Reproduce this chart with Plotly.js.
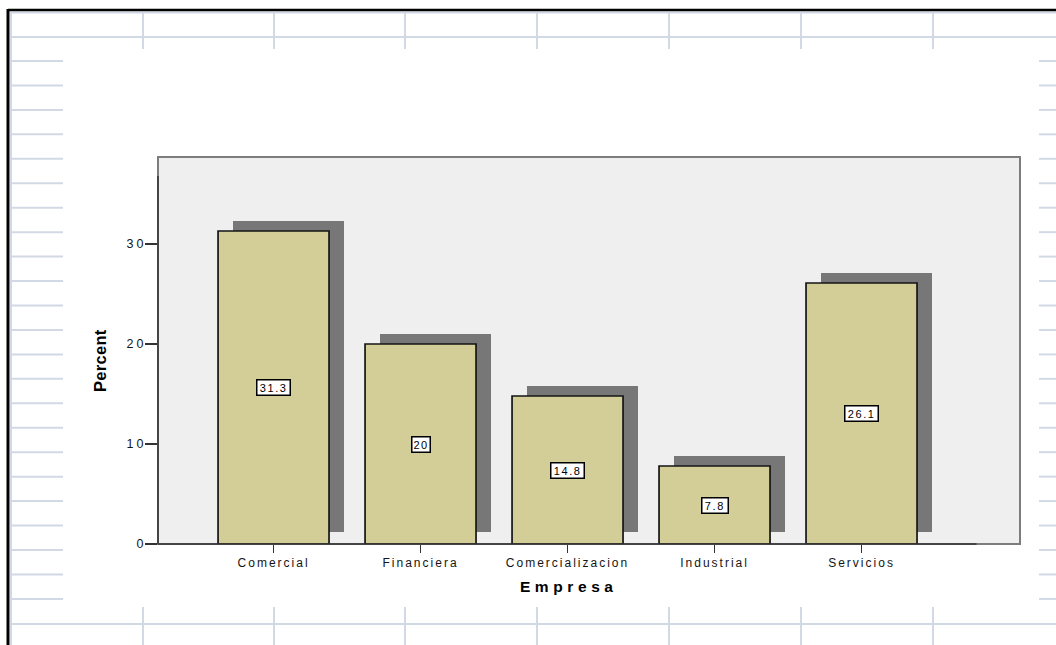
<!DOCTYPE html>
<html>
<head>
<meta charset="utf-8">
<script src="https://cdn.plot.ly/plotly-3.0.1.min.js"></script>
<style>
  html, body { margin: 0; padding: 0; background: #ffffff; }
  #chart { width: 1056px; height: 645px; }
  #chart .xtick text { letter-spacing: 2px; }
  #chart .ytick text { letter-spacing: 3px; }
  #chart .annotation text { letter-spacing: 1.6px; }
  #chart .annotation[data-index="5"] text { letter-spacing: 0.3px; }
  #chart .annotation[data-index="6"] text { letter-spacing: 4.6px; }
</style>
</head>
<body>
<div id="chart"></div>
<script>
// ---- data ----
const categories = ['Comercial', 'Financiera', 'Comercializacion', 'Industrial', 'Servicios'];
const percents = [31.3, 20, 14.8, 7.8, 26.1];
const yTickValues = [0, 10, 20, 30];
const xTitle = 'Empresa';
const yTitle = 'Percent';

// ---- styling constants ----
const BAR_WIDTH = 0.755;
const SHADOW_DX = 0.102;
const SHADOW_DY = 1.05;
const SHADOW_BASE = 1.2;
const W = 1056, H = 645;
const M = { l: 158, r: 36, t: 157, b: 101 };
const PW = W - M.l - M.r, PH = H - M.t - M.b;
const GRID = '#d2d9e5';
const FONT = 'Liberation Sans, Arial, sans-serif';

const positions = categories.map((c, i) => i);

const shadowTrace = {
  type: 'bar',
  x: positions.map(p => p + SHADOW_DX),
  y: percents.map(v => v + SHADOW_DY - SHADOW_BASE),
  base: SHADOW_BASE,
  width: BAR_WIDTH,
  marker: { color: '#777777', line: { width: 0 } },
  hoverinfo: 'skip',
  showlegend: false
};

const barTrace = {
  type: 'bar',
  x: positions,
  y: percents,
  width: BAR_WIDTH,
  marker: { color: '#d3ce97', line: { color: '#151515', width: 1.7 } },
  hovertemplate: '%{text}: %{y}<extra></extra>',
  text: categories,
  textposition: 'none',
  showlegend: false
};

// ---- pixel -> paper helpers ----
const px = x => (x - M.l) / PW;
const py = y => (M.t + PH - y) / PH;

// value labels in white boxes at mid-height of bars
const labelAnnotations = percents.map((v, i) => ({
  x: positions[i], y: v / 2, xref: 'x', yref: 'y',
  text: String(v), showarrow: false,
  width: String(v).length * 7.6, height: 12,
  font: { family: FONT, size: 11, color: '#000' },
  bgcolor: '#ffffff', bordercolor: '#000000', borderwidth: 1.5, borderpad: 1
}));

const titleAnnotations = [
  { xref: 'paper', yref: 'paper', x: px(100), y: py(361), xanchor: 'center', yanchor: 'middle',
    text: yTitle, textangle: -90, showarrow: false,
    font: { family: FONT, size: 16.5, weight: 'bold', color: '#000000' } },
  { xref: 'paper', yref: 'paper', x: px(569), y: py(586), xanchor: 'center', yanchor: 'middle',
    text: xTitle, showarrow: false,
    font: { family: FONT, size: 15.5, weight: 'bold', color: '#000000' } }
];

// ---- page decorations (worksheet grid around the pasted chart) ----
function line(x0, y0, x1, y1, color, width) {
  return { type: 'line', xref: 'paper', yref: 'paper', x0: px(x0), y0: py(y0), x1: px(x1), y1: py(y1),
           line: { color: color, width: width }, layer: 'below' };
}
const deco = [];
const colXs = [143, 274, 405, 537, 669, 801, 933];
deco.push(line(10, 37, W, 37, GRID, 2));
deco.push(line(10, 624, W, 624, GRID, 2));
deco.push(line(10, 12.5, W, 12.5, GRID, 2));
deco.push(line(11, 12, 11, H, GRID, 2));
colXs.forEach(x => {
  deco.push(line(x, 12, x, 49, GRID, 2));
  deco.push(line(x, 607, x, H, GRID, 2));
});
for (let k = 0; k < 23; k++) {
  const y = 61 + 24.45 * k;
  deco.push(line(10, y, 63, y, GRID, 2));
  deco.push(line(1039, y, W, y, GRID, 2));
}
deco.push(line(8, 10, W, 10, '#000000', 2.5));
deco.push(line(8, 9, 8, H, '#000000', 3));

// plot frame and axis lines
deco.push({ type: 'rect', xref: 'paper', yref: 'paper', x0: 0, y0: 0, x1: 1, y1: 1,
            line: { color: '#7d7d7d', width: 2 }, layer: 'below' });
deco.push({ type: 'line', xref: 'paper', yref: 'y', x0: 0, x1: 0, y0: 0, y1: 36.8,
            line: { color: '#333333', width: 1.5 }, layer: 'above' });
deco.push({ type: 'line', xref: 'x', yref: 'paper', x0: -0.786, x1: 4.782, y0: 0, y1: 0,
            line: { color: '#333333', width: 1.5 }, layer: 'above' });

const tickFont = { family: FONT, size: 12, color: '#151515' };

const layout = {
  width: W, height: H,
  margin: { l: M.l, r: M.r, t: M.t, b: M.b, pad: 0 },
  paper_bgcolor: 'rgba(0,0,0,0)',
  plot_bgcolor: '#efefef',
  barmode: 'overlay',
  bargap: 0,
  showlegend: false,
  xaxis: {
    range: [-0.786, 5.078],
    tickmode: 'array', tickvals: positions, ticktext: categories,
    ticks: 'outside', ticklen: 8, tickwidth: 1.5, tickcolor: '#333333',
    showgrid: false, zeroline: false, showline: false,
    tickfont: tickFont, automargin: false, fixedrange: true
  },
  yaxis: {
    range: [0, 38.7],
    tickmode: 'array', tickvals: yTickValues, ticktext: yTickValues.map(String),
    ticks: 'outside', ticklen: 12, tickwidth: 1.5, tickcolor: '#333333',
    ticklabelstandoff: -4,
    showgrid: false, zeroline: false, showline: false,
    tickfont: { family: FONT, size: 12.5, color: '#151515' }, automargin: false, fixedrange: true
  },
  shapes: deco,
  annotations: labelAnnotations.concat(titleAnnotations)
};

Plotly.newPlot('chart', [shadowTrace, barTrace], layout, { displayModeBar: false, staticPlot: true });
</script>
</body>
</html>
